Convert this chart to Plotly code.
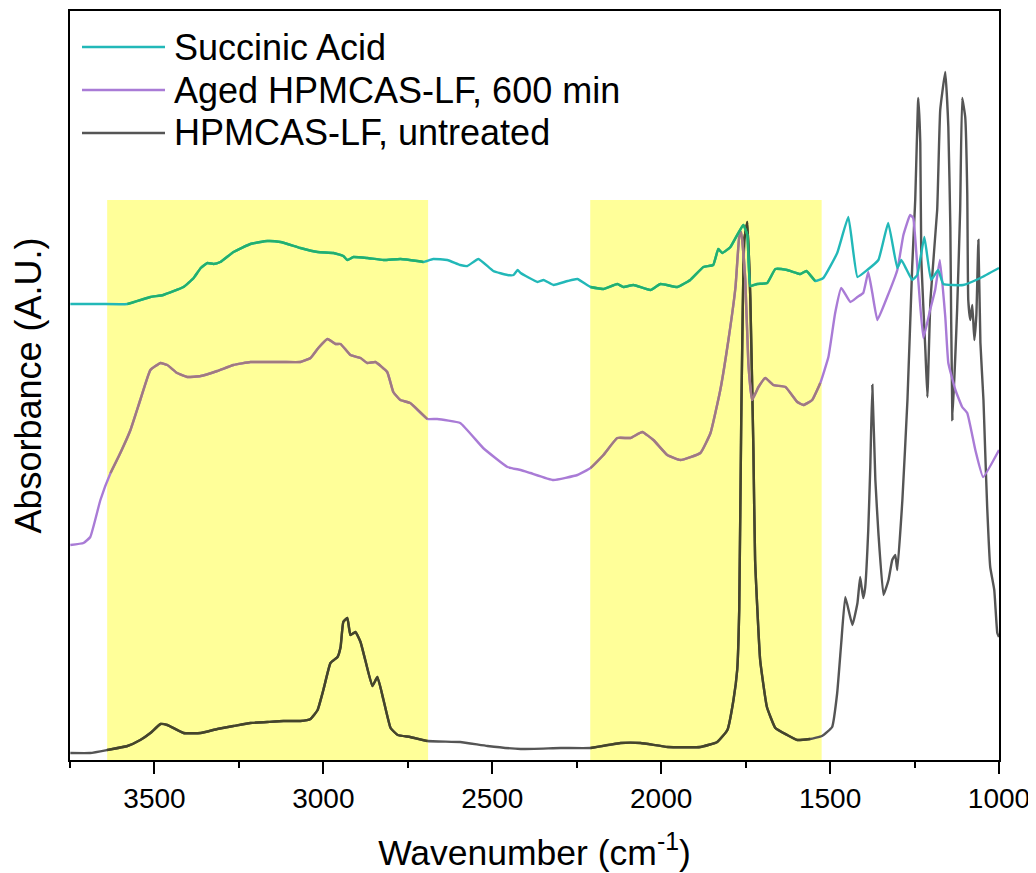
import plotly.graph_objects as go

# ---------------- data ----------------
teal_wn = [3749,3660,3580,3512,3474,3414,3384,3363,3343,3325,3305,3266,3216,3166,3127,3068,3017,2970,2941,2929,
           2911,2870,2822,2772,2722,2704,2675,2633,2595,2574,2541,2497,2455,2437,2425,2416,2366,2348,2319,2277,
           2248,2209,2171,2130,2112,2082,2032,2002,1952,1914,1875,1846,1831,1819,1795,1757,1745,1736,1716,1686,
           1662,1627,1588,1570,1544,1520,1479,1446,1419,1390,1357,1328,1301,1289,1257,1242,1221,1201,1180,1165,
           1106,1055,1000]
teal_abs = [456,456,456,463,465,473,482,492,497,496,498,508,516,519,518,512,508,507,504,500,
            503,502,500,501,499,498,501,500,495,494,501,489,485,485,490,487,478,480,475,479,
            481,473,471,476,473,475,470,476,473,480,493,495,511,507,513,535,525,474,476,477,
            491,490,486,489,479,482,507,543,483,490,500,537,492,500,480,485,523,480,490,476,
            475,482,492]

purple_wn = [3749,3710,3690,3660,3630,3601,3571,3542,3512,3482,3462,3433,3403,3363,3314,3266,3216,3166,3118,3068,
             3038,3015,2988,2964,2949,2920,2890,2870,2846,2811,2793,2772,2743,2692,2663,2595,2527,2455,2416,2387,
             2319,2248,2209,2171,2130,2091,2056,2023,1982,1943,1884,1854,1825,1801,1780,1769,1763,1751,1742,1731,
             1712,1692,1668,1632,1597,1579,1553,1529,1505,1485,1467,1440,1419,1402,1387,1375,1360,1331,1301,1283,
             1263,1254,1239,1224,1204,1189,1175,1159,1150,1129,1109,1094,1070,1047,1000]
purple_abs = [215,217,223,260,287,307,330,360,390,397,395,387,383,384,389,395,398,398,398,398,
              402,412,421,416,416,405,402,397,398,388,368,360,357,341,341,337,312,293,290,287,
              280,285,292,305,322,322,328,320,305,300,307,327,370,420,473,523,528,480,397,360,
              373,382,375,373,358,355,360,377,403,447,472,458,463,467,488,467,440,463,490,525,
              545,542,480,422,450,470,500,443,397,370,353,347,310,283,310]

black_wn = [3749,3690,3640,3580,3542,3512,3482,3462,3414,3363,3314,3266,3216,3166,3118,3068,3038,3017,3000,2979,
            2958,2949,2941,2929,2920,2905,2890,2876,2855,2840,2822,2801,2780,2743,2692,2595,2514,2416,2298,2209,
            2120,2061,1981,1884,1834,1804,1786,1775,1769,1763,1754,1745,1736,1727,1722,1707,1687,1662,1627,1597,
            1559,1524,1494,1479,1467,1455,1434,1419,1411,1402,1396,1387,1381,1375,1366,1357,1342,1327,1316,1307,
            1301,1286,1271,1257,1248,1239,1233,1230,1218,1212,1203,1183,1174,1159,1150,1144,1138,1124,1115,1109,
            1100,1094,1091,1085,1079,1073,1067,1061,1055,1046,1041,1035,1026,1014,1005,1000]
black_abs = [7,7,10,14,20,27,36,35,27,27,31,34,37,38,39,39,41,50,70,97,
             103,113,138,142,125,128,118,100,74,83,60,32,25,23,19,18,14,11,12,12,
             17,17,13,13,18,30,60,90,150,340,520,538,460,310,200,100,53,32,25,20,
             21,24,33,67,117,163,135,157,183,162,173,230,293,375,280,227,165,180,200,205,
             190,260,360,493,560,662,617,500,410,363,460,550,650,688,633,533,340,450,550,662,
             643,567,460,440,455,420,445,520,417,360,310,253,193,170,127,123]

series_names = ["Succinic Acid", "Aged HPMCAS-LF, 600 min", "HPMCAS-LF, untreated"]
series_colors = ["#22b8b8", "#a97bd6", "#555555"]
series_colors_in_band = ["#22b06e", "#a07a80", "#45452a"]   # line tint under the yellow bands
highlight_ranges = [(3640, 2690), (2210, 1525)]
highlight_top = 560
x_ticks = [3500, 3000, 2500, 2000, 1500, 1000]

FONT = "Arial, Liberation Sans, sans-serif"

fig = go.Figure()

data = [(teal_wn, teal_abs), (purple_wn, purple_abs), (black_wn, black_abs)]


def in_band(w):
    return any(min(a, b) <= w <= max(a, b) for a, b in highlight_ranges)


# draw in reverse order so teal sits on top
for i in [2, 1, 0]:
    wn, ab = data[i]
    fig.add_trace(go.Scatter(x=wn, y=ab, mode="lines", name=series_names[i],
                             line=dict(color=series_colors[i], width=2.4, shape="spline", smoothing=0.35),
                             showlegend=False))
    yb = [v if in_band(w) else None for w, v in zip(wn, ab)]
    fig.add_trace(go.Scatter(x=wn, y=yb, mode="lines", name=series_names[i],
                             line=dict(color=series_colors_in_band[i], width=2.4, shape="spline",
                                       smoothing=0.35),
                             connectgaps=False, showlegend=False, hoverinfo="skip"))

shapes = []
for a, b in highlight_ranges:
    shapes.append(dict(type="rect", xref="x", yref="y", x0=a, x1=b, y0=0, y1=highlight_top,
                       fillcolor="#ffff99", line=dict(width=0), layer="below"))

# manual legend (long line samples as in the reference); pixel positions are page pixels
L, W, B, H = 70, 929, 760, 749


def px_x(p):
    return (p - L) / W


def px_y(p):
    return (B - p) / H


annotations = []
legend_y = [47, 90, 133]
for i in range(3):
    yy = px_y(legend_y[i])
    shapes.append(dict(type="line", xref="paper", yref="paper", x0=px_x(82), x1=px_x(165),
                       y0=yy, y1=yy, line=dict(color=series_colors[i], width=2.5)))
    annotations.append(dict(xref="paper", yref="paper", x=px_x(172), y=yy, text=series_names[i],
                            showarrow=False, xanchor="left", yanchor="middle",
                            font=dict(family=FONT, size=36, color="black")))

# the page body adds an 8px offset, so the figure is 8px smaller and margins shifted
fig.update_layout(
    width=1028, height=865,
    margin=dict(l=62, r=37, t=3, b=113),
    paper_bgcolor="white", plot_bgcolor="white",
    shapes=shapes, annotations=annotations,
    font=dict(family=FONT, color="black"),
    xaxis=dict(
        range=[3750, 1000], tickvals=x_ticks, ticks="outside", ticklen=12, tickwidth=2,
        tickcolor="black", showline=True, linecolor="black", linewidth=2, mirror=True,
        showgrid=False, zeroline=False, tickfont=dict(size=28, family=FONT, color="black"),
        automargin=False,
        minor=dict(dtick=250, tick0=1000, ticks="outside", ticklen=6, tickwidth=2, tickcolor="black",
                   showgrid=False),
        title=dict(text="Wavenumber (cm<sup>-1</sup>)", font=dict(size=35.5, family=FONT, color="black"),
                   standoff=28),
    ),
    yaxis=dict(
        range=[0, 749], showticklabels=False, ticks="", showline=True, linecolor="black",
        linewidth=2, mirror=True, showgrid=False, zeroline=False, automargin=False,
        title=dict(text="Absorbance (A.U.)", font=dict(size=36, family=FONT, color="black"),
                   standoff=16),
    ),
)

fig.write_html("out.html")
